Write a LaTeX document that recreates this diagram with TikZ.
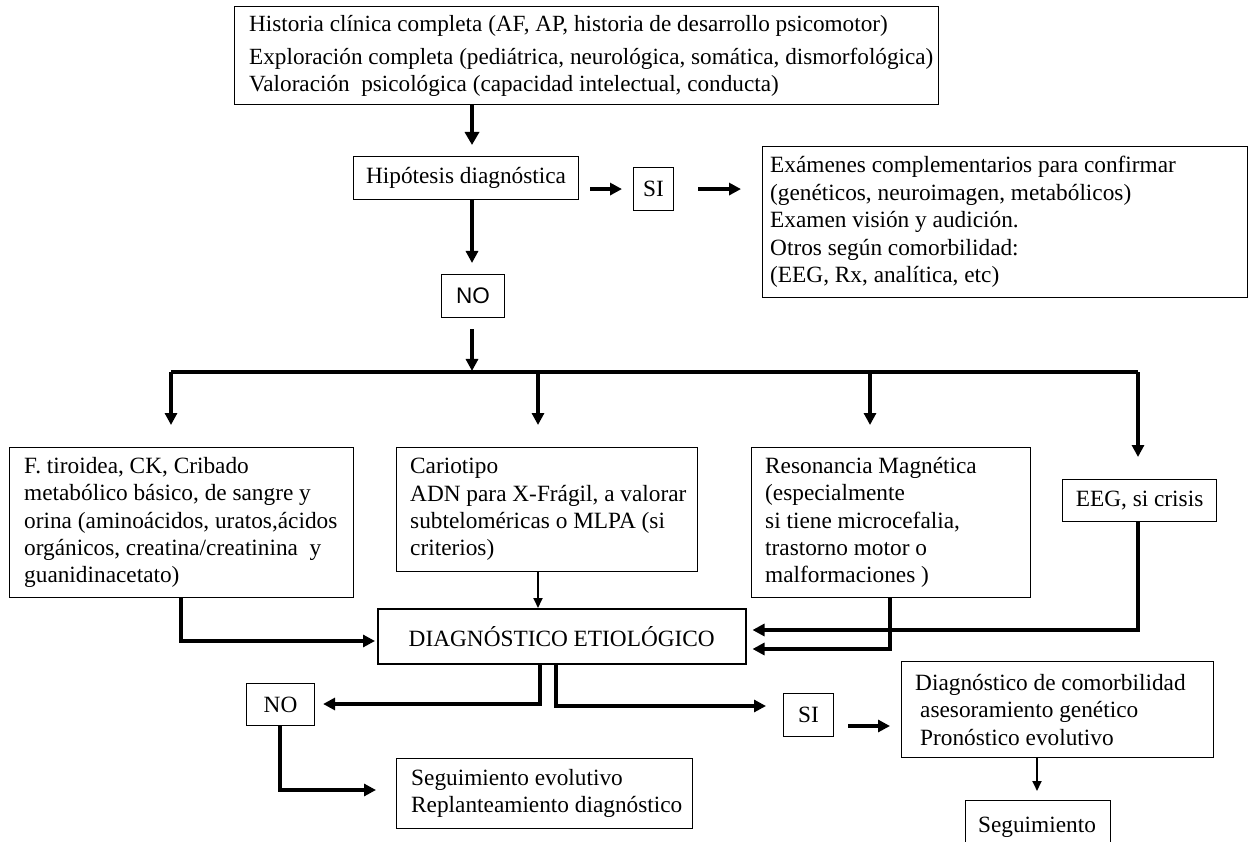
\documentclass[tikz,border=0pt]{standalone}
\usepackage{fontspec}
\setmainfont{Liberation Serif}
\newfontfamily\sansfont{Liberation Sans}
\usetikzlibrary{arrows.meta,positioning}
\begin{document}
\begin{tikzpicture}[x=1pt,y=-1pt,
  box/.style={draw=black, line width=1.1pt, anchor=north west, inner sep=0pt},
  txt/.style={anchor=west, align=left, inner sep=0pt, font=\fontsize{23.3}{27.3}\selectfont},
  ctxt/.style={font=\fontsize{23.3}{27.3}\selectfont},
  link/.style={line width=3.2pt, -{Triangle[length=12pt,width=12pt]}},
  thinlink/.style={line width=1.8pt, -{Triangle[length=10pt,width=9pt]}},
  barline/.style={line width=3.2pt}
]
\useasboundingbox (0,0) rectangle (1248,842);

% ---------- boxes ----------
\node[box, minimum width=704pt, minimum height=98pt] (top) at (234,6) {};
\node[txt, right=15pt of top.west, font=\fontsize{23.2}{27}\selectfont] (ttop)
  {Historia clínica completa (AF, AP, historia de desarrollo psicomotor)\\[6pt]
   Exploración completa (pediátrica, neurológica, somática, dismorfológica)\\
   Valoración~ psicológica (capacidad intelectual, conducta)};

\node[box, ctxt, minimum width=225pt, minimum height=43pt] (hip) at (353,156) {Hipótesis diagnóstica};
\node[box, ctxt, minimum width=40pt, minimum height=43pt] (si1) at (633,167) {SI};

\node[box, minimum width=485pt, minimum height=151pt] (exa) at (762,146) {};
\node[txt, right=8pt of exa.west, font=\fontsize{23.3}{27.5}\selectfont] (texa)
  {Exámenes complementarios para confirmar\\
   (genéticos, neuroimagen, metabólicos)\\
   Examen visión y audición.\\
   Otros según comorbilidad:\\
   (EEG, Rx, analítica, etc)};

\node[box, minimum width=63pt, minimum height=43pt, font=\sansfont\fontsize{22.5}{26}\selectfont] (no1) at (441,274) {NO};

\node[box, minimum width=344pt, minimum height=150pt] (b1) at (9,447) {};
\node[txt, right=15pt of b1.west] (tb1)
  {F. tiroidea, CK, Cribado\\
   metabólico básico, de sangre y\\
   orina (aminoácidos, uratos,ácidos\\
   orgánicos, creatina/creatinina~ y\\
   guanidinacetato)};

\node[box, minimum width=301pt, minimum height=124pt] (b2) at (396,447) {};
\node[txt, right=14pt of b2.west] (tb2)
  {Cariotipo\\
   ADN para X-Frágil, a valorar\\
   subteloméricas o MLPA (si\\
   criterios)};

\node[box, minimum width=279pt, minimum height=150pt] (b3) at (751,447) {};
\node[txt, right=14pt of b3.west] (tb3)
  {Resonancia Magnética\\
   (especialmente\\
   si tiene microcefalia,\\
   trastorno motor o\\
   malformaciones )};

\node[box, ctxt, minimum width=154pt, minimum height=42pt] (eeg) at (1062,479) {EEG, si crisis};

\node[box, ctxt, line width=1.5pt, minimum width=368pt, minimum height=55pt] (diag) at (377,608) {DIAGNÓSTICO ETIOLÓGICO};

\node[box, ctxt, minimum width=68pt, minimum height=42pt] (no2) at (246,683) {NO};
\node[box, ctxt, minimum width=50pt, minimum height=43pt] (si2) at (783,693) {SI};

\node[box, minimum width=312pt, minimum height=96pt] (com) at (901,661) {};
\node[txt, right=14pt of com.west, font=\fontsize{23.3}{27.5}\selectfont] (tcom)
  {Diagnóstico de comorbilidad\\
   \hspace*{5pt}asesoramiento genético\\
   \hspace*{5pt}Pronóstico evolutivo};

\node[box, minimum width=296pt, minimum height=70pt] (s1) at (396,758) {};
\node[txt, right=15pt of s1.west] (ts1)
  {Seguimiento evolutivo\\
   Replanteamiento diagnóstico};

\node[box, minimum width=145pt, minimum height=60pt] (s2) at (965,800) {};
\node[ctxt, inner sep=0pt] (ts2) at (1037,827) {Seguimiento};

% ---------- coordinates for connectors ----------
\coordinate (d1) at (171,372);
\coordinate (d2) at (538,372);
\coordinate (d3) at (870,372);
\coordinate (d4) at (1138,372);
\coordinate (c1) at (181,641);
\coordinate (c3) at (890,649);
\coordinate (c4) at (1138,630);
\coordinate (c5) at (540,704);
\coordinate (c6) at (556,706);
\coordinate (c7) at (0,726);
\coordinate (c8) at (280,790);
\coordinate (ax) at (472,0);

% ---------- connectors ----------
\draw[link, line width=4.5pt, -{Triangle[length=13pt,width=14pt]}, shorten >=11pt] (top.south -| ax) -- (hip.north -| ax);
\draw[link, shorten >=11pt] (hip.south -| ax) -- (no1.north -| ax);
\draw[link, shorten <=11pt, shorten >=1pt] (no1.south -| ax) -- (d1 -| ax);

\draw[link, shorten <=11pt, shorten >=11pt] (hip.east |- si1) -- (si1.west);
\draw[link, shorten <=24pt, shorten >=21pt] (si1.east) -- (exa.west |- si1);

\draw[barline] (d1) -- (d4);
\draw[link, shorten >=22pt] (d1) -- (d1 |- b1.north);
\draw[link, shorten >=22pt] (d2) -- (d2 |- b2.north);
\draw[link, shorten >=22pt] (d3) -- (d3 |- b3.north);
\draw[link, shorten >=22pt] (d4) -- (d4 |- eeg.north);

\draw[thinlink] (b2.south -| d2) -- (diag.north -| d2);
\draw[link, shorten >=2pt] (b1.south -| c1) -- (c1) -- (diag.west |- c1);
\draw[link, shorten >=6pt] (eeg.south -| c4) -- (c4) -- (diag.east |- c4);
\draw[link, shorten >=6pt] (b3.south -| c3) -- (c3) -- (diag.east |- c3);

\draw[link, shorten >=8pt] (diag.south -| c5) -- (c5) -- (no2.east |- c5);
\draw[link, shorten >=17pt] (diag.south -| c6) -- (c6) -- (si2.west |- c6);
\draw[link, shorten <=14pt, shorten >=11pt] (si2.east |- c7) -- (com.west |- c7);
\draw[link, shorten >=20pt] (no2.south -| c8) -- (c8) -- (s1.west |- c8);
\draw[thinlink, shorten >=9pt] (com.south -| ts2) -- (s2.north -| ts2);
\end{tikzpicture}
\end{document}
